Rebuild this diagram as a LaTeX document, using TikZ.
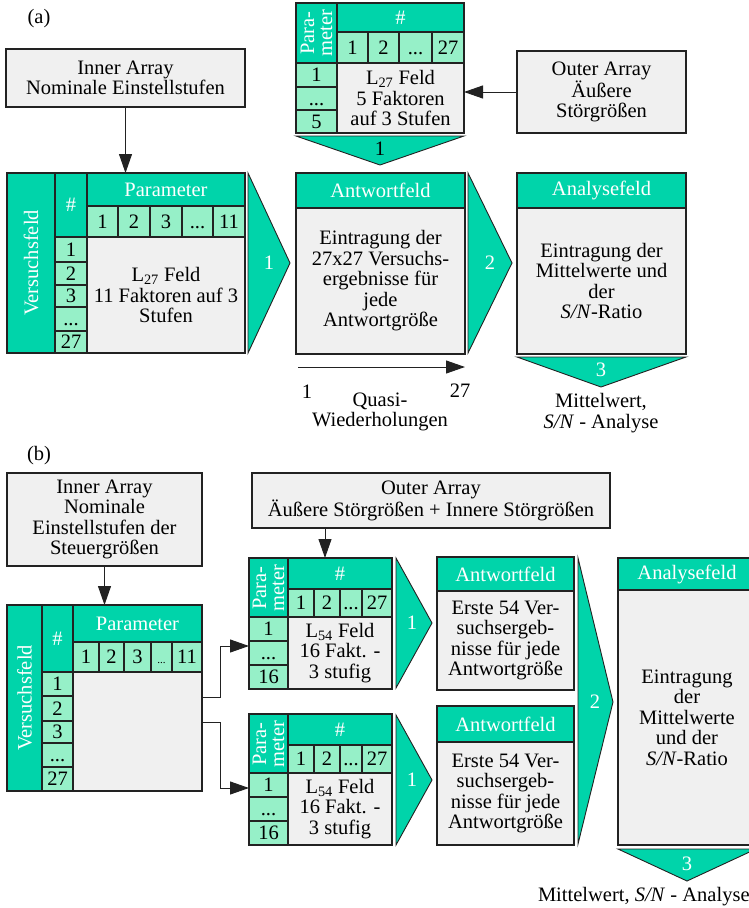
\documentclass[tikz,border=0pt]{standalone}
\usepackage{fontspec}
\setmainfont{Liberation Serif}
\usetikzlibrary{arrows.meta}
\definecolor{tealc}{RGB}{0,212,170}
\definecolor{lightc}{RGB}{150,240,200}
\definecolor{greyc}{RGB}{240,240,240}
\definecolor{linec}{RGB}{34,34,34}

% rectangular node spanning (x1,y1)-(x2,y2): name, style, x1, y1, x2, y2, text
\newcommand\mkbox[7]{%
  \node[#2, minimum width={(#5)-(#3)}, minimum height={(#6)-(#4)}]
    (#1) at ({((#3)+(#5))/2},{((#4)+(#6))/2}) {#7};}

% L54 table: name prefix, top edge
\newcommand\lfeld[2]{%
  \mkbox{#1p}{hdr}{249}{#2}{288}{#2+60}{}
  \node[vtext, ptext] at (#1p.center) {Para-\\meter};
  \mkbox{#1h}{hdr}{288}{#2}{392}{#2+31}{\#}
  \mkbox{#1c1}{cell}{288}{#2+31}{314}{#2+59}{1}
  \mkbox{#1c2}{cell}{314}{#2+31}{340}{#2+59}{2}
  \mkbox{#1c3}{cell}{340}{#2+31}{362}{#2+59}{...}
  \mkbox{#1c4}{cell}{362}{#2+31}{392}{#2+59}{27}
  \mkbox{#1r1}{cell}{249}{#2+59}{288}{#2+83}{1}
  \mkbox{#1r2}{cell}{249}{#2+83}{288}{#2+107}{...}
  \mkbox{#1r3}{cell}{249}{#2+107}{288}{#2+131}{16}
  \mkbox{#1f}{body}{288}{#2+59}{392}{#2+131}{L\textsubscript{54} Feld\\16 Fakt. -\\3 stufig}}

\begin{document}
\begin{tikzpicture}[x=1pt,y=-1pt,
  every node/.style={inner sep=0pt, outer sep=0pt, align=center,
    font=\fontsize{20.5}{20.5}\selectfont},
  hdr/.style={rectangle, draw=linec, line width=1.1pt, fill=tealc, text=white},
  cell/.style={rectangle, draw=linec, line width=1.1pt, fill=lightc,
    text height=13.5pt, text depth=0pt},
  body/.style={rectangle, draw=linec, line width=1.1pt, fill=greyc},
  vtext/.style={rotate=90, text=white},
  ptext/.style={font=\fontsize{20.5}{18}\selectfont},
  chev/.style={draw=linec, line width=0.9pt, fill=tealc},
  clab/.style={text=white},
  arr/.style={draw=linec, line width=1pt, -{Triangle[length=19pt,width=13pt]}}]
\clip (0,0) rectangle (749,908);

% ---------------- (a) ----------------
\node (labA) at (39,19) {(a)};
\mkbox{innerA}{body}{6}{49}{245}{107}{Inner Array\\Nominale Einstellstufen}

% inner array table
\mkbox{vfA}{hdr}{7}{173}{55}{353}{}
\node[vtext] at (vfA.center) {Versuchsfeld};
\mkbox{nrA}{hdr}{55}{173}{87}{237}{\#}
\mkbox{parA}{hdr}{87}{173}{245}{206}{Parameter}
\mkbox{pA1}{cell}{87}{206}{118}{237}{1}
\mkbox{pA2}{cell}{118}{206}{150}{237}{2}
\mkbox{pA3}{cell}{150}{206}{182}{237}{3}
\mkbox{pA4}{cell}{182}{206}{213}{237}{...}
\mkbox{pA5}{cell}{213}{206}{245}{237}{11}
\mkbox{rA1}{cell}{55}{237}{87}{262}{1}
\mkbox{rA2}{cell}{55}{262}{87}{285}{2}
\mkbox{rA3}{cell}{55}{285}{87}{307}{3}
\mkbox{rA4}{cell}{55}{307}{87}{331}{...}
\mkbox{rA5}{cell}{55}{331}{87}{353}{27}
\mkbox{fldA}{body}{87}{237}{245}{353}{L\textsubscript{27} Feld\\11 Faktoren auf 3\\Stufen}

% outer array table
\mkbox{pmA}{hdr}{296}{3}{337}{63}{}
\node[vtext, ptext] at (pmA.center) {Para-\\meter};
\mkbox{hsA}{hdr}{337}{3}{464}{32}{\#}
\mkbox{qA1}{cell}{337}{32}{368}{63}{1}
\mkbox{qA2}{cell}{368}{32}{399}{63}{2}
\mkbox{qA3}{cell}{399}{32}{432}{63}{...}
\mkbox{qA4}{cell}{432}{32}{464}{63}{27}
\mkbox{sA1}{cell}{296}{63}{337}{87}{1}
\mkbox{sA2}{cell}{296}{87}{337}{110}{...}
\mkbox{sA3}{cell}{296}{110}{337}{133}{5}
\mkbox{l27A}{body}{337}{63}{464}{133}{L\textsubscript{27} Feld\\5 Faktoren\\auf 3 Stufen}

\mkbox{outerA}{body}{517}{51}{686}{133}{Outer Array\\Äußere\\Störgrößen}

% response and analysis fields
\mkbox{antA}{hdr}{296}{173}{465}{208}{Antwortfeld}
\mkbox{antAb}{body}{296}{208}{465}{354}{Eintragung der\\27x27 Versuchs-\\ergebnisse für\\jede\\Antwortgröße}
\mkbox{anaA}{hdr}{517}{173}{686}{208}{Analysefeld}
\mkbox{anaAb}{body}{517}{208}{686}{354}{Eintragung der\\Mittelwerte und\\der\\\textit{S/N}-Ratio}

% step chevrons
\draw[chev] (296,136) -- (464,136) -- (380,165) -- cycle;
\node at (380,149) {1};
\draw[chev] (248,173) -- (290,263) -- (248,353) -- cycle;
\node[clab] at (269,263) {1};
\draw[chev] (468,173) -- (512,263) -- (468,353) -- cycle;
\node[clab] at (490,263) {2};
\draw[chev] (517,357) -- (686,357) -- (601,387) -- cycle;
\node[clab] at (601,370) {3};

% connectors
\draw[arr] (innerA.south) -- (innerA.south |- parA.north);
\draw[arr] (outerA.west) -- (outerA.west -| l27A.east);
\coordinate (qs) at (298,367);
\coordinate (qe) at (465,367);
\draw[arr] (qs) -- (qe);

\node (qa1) at (307,392) {1};
\node (qa27) at (460,391) {27};
\node (qw) at (380,412) {Quasi-\\Wiederholungen};
\node (mwA) at (601,413) {Mittelwert,\\\textit{S/N} - Analyse};

% ---------------- (b) ----------------
\node (labB) at (39,456) {(b)};
\mkbox{innerB}{body}{7}{473}{202}{566}{Inner Array\\Nominale\\Einstellstufen der\\Steuergrößen}
\mkbox{outerB}{body}{252}{473}{610}{528}{Outer Array\\Äußere Störgrößen + Innere Störgrößen}

% inner array table
\mkbox{vfB}{hdr}{7}{605}{42}{791}{}
\node[vtext] at (vfB.center) {Versuchsfeld};
\mkbox{nrB}{hdr}{42}{605}{73}{672}{\#}
\mkbox{parB}{hdr}{73}{605}{202}{642}{Parameter}
\mkbox{pB1}{cell}{73}{642}{99}{672}{1}
\mkbox{pB2}{cell}{99}{642}{124}{672}{2}
\mkbox{pB3}{cell}{124}{642}{151}{672}{3}
\mkbox{pB4}{cell}{151}{642}{172}{672}{\fontsize{11}{11}\selectfont ...}
\mkbox{pB5}{cell}{172}{642}{202}{672}{11}
\mkbox{rB1}{cell}{42}{672}{73}{696}{1}
\mkbox{rB2}{cell}{42}{696}{73}{721}{2}
\mkbox{rB3}{cell}{42}{721}{73}{743}{3}
\mkbox{rB4}{cell}{42}{743}{73}{767}{...}
\mkbox{rB5}{cell}{42}{767}{73}{791}{27}
\mkbox{fldB}{body}{73}{672}{202}{791}{}

% outer array tables
\lfeld{tU}{558}
\lfeld{tL}{714}

% response and analysis fields
\mkbox{antU}{hdr}{437}{557}{574}{591}{Antwortfeld}
\mkbox{antUb}{body}{437}{591}{574}{690}{Erste 54 Ver-\\suchsergeb-\\nisse für jede\\Antwortgröße}
\mkbox{antL}{hdr}{437}{706}{574}{742}{Antwortfeld}
\mkbox{antLb}{body}{437}{742}{574}{845}{Erste 54 Ver-\\suchsergeb-\\nisse für jede\\Antwortgröße}
\mkbox{anaB}{hdr}{618}{558}{756}{590}{Analysefeld}
\mkbox{anaBb}{body}{618}{590}{756}{845}{Eintragung\\der\\Mittelwerte\\und der\\\textit{S/N}-Ratio}

% step chevrons
\draw[chev] (396,558) -- (432,623) -- (396,688) -- cycle;
\node[clab] at (412,623) {1};
\draw[chev] (396,715) -- (432,780) -- (396,845) -- cycle;
\node[clab] at (412,780) {1};
\draw[chev] (578,558) -- (613,702) -- (578,844) -- cycle;
\node[clab] at (595,702) {2};
\draw[chev] (618,849) -- (756,849) -- (687,881) -- cycle;
\node[clab] at (687,864) {3};

% connectors
\draw[arr] (innerB.south) -- (innerB.south |- parB.north);
\draw[arr] ([xshift=-106pt]outerB.south) -- ([xshift=-106pt]outerB.south |- tUh.north);
\draw[arr] ([yshift=34.5pt]fldB.east) -- ++(18,0) |- ([yshift=-5pt]tUr1.south west);
\draw[arr] ([yshift=9.5pt]fldB.east) -- ++(18,0) |- ([yshift=-3pt]tLr1.west);

\node[anchor=west] (mwB) at (538,897) {Mittelwert, \textit{S/N} - Analyse};
\end{tikzpicture}
\end{document}
